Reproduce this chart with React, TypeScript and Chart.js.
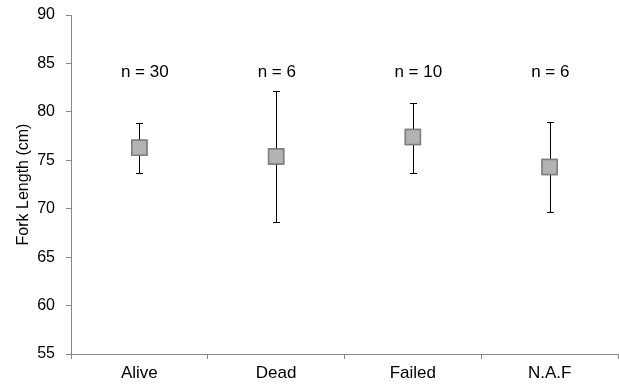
import React, { useEffect, useRef } from "react";
import { Chart, registerables } from "chart.js";

Chart.register(...registerables);

const categories = ["Alive", "Dead", "Failed", "N.A.F"];
const means = [76.3, 75.4, 77.4, 74.3];
const upper = [78.9, 82.2, 80.9, 79.0];
const lower = [73.7, 68.6, 73.65, 69.7];
const nLabels = ["n = 30", "n = 6", "n = 10", "n = 6"];
const nLabelY = 84.1;
const yMin = 55;
const yMax = 90;
const yStep = 5;

const FONT = "'Liberation Sans', Arial, sans-serif";

const errorBarPlugin = {
  id: "errorBars",
  afterDatasetsDraw(chart: any) {
    const ctx = chart.ctx;
    const x = chart.scales.x;
    const y = chart.scales.y;
    ctx.save();
    ctx.strokeStyle = "#000";
    ctx.lineWidth = 1;
    categories.forEach((_, i) => {
      const px = Math.round(x.getPixelForValue(i)) + 0.5;
      const pt = Math.round(y.getPixelForValue(upper[i])) + 0.5;
      const pb = Math.round(y.getPixelForValue(lower[i])) + 0.5;
      ctx.beginPath();
      ctx.moveTo(px, pt);
      ctx.lineTo(px, pb);
      ctx.moveTo(px - 3.5, pt);
      ctx.lineTo(px + 3.5, pt);
      ctx.moveTo(px - 3.5, pb);
      ctx.lineTo(px + 3.5, pb);
      ctx.stroke();
    });
    ctx.restore();
  },
};

const drawPointsPlugin = {
  id: "redrawPoints",
  afterDatasetsDraw(chart: any) {
    const meta = chart.getDatasetMeta(0);
    const ctx = chart.ctx;
    ctx.save();
    meta.data.forEach((el: any) => el.draw(ctx, chart.chartArea));
    ctx.restore();
  },
};

const nLabelPlugin = {
  id: "nLabels",
  afterDatasetsDraw(chart: any) {
    const ctx = chart.ctx;
    const x = chart.scales.x;
    const y = chart.scales.y;
    ctx.save();
    ctx.fillStyle = "#000";
    ctx.font = `17px ${FONT}`;
    ctx.textAlign = "left";
    ctx.textBaseline = "middle";
    nLabels.forEach((t, i) => {
      ctx.fillText(t, x.getPixelForValue(i) - 18.5, y.getPixelForValue(nLabelY));
    });
    ctx.restore();
  },
};

export default function App() {
  const ref = useRef<HTMLCanvasElement>(null);
  useEffect(() => {
    if (!ref.current) return;
    const chart = new Chart(ref.current, {
      type: "line",
      data: {
        labels: categories,
        datasets: [
          {
            data: means,
            showLine: false,
            pointStyle: "rect",
            pointRadius: 10.6,
            pointBackgroundColor: "#B3B3B3",
            pointBorderColor: "#7F7F7F",
            pointBorderWidth: 1.5,
          },
        ],
      },
      options: {
        animation: false,
        responsive: false,
        maintainAspectRatio: false,
        layout: { autoPadding: false, padding: { top: 15, right: 1, left: 0, bottom: 2 } },
        plugins: {
          legend: { display: false },
          tooltip: { enabled: false },
        },
        scales: {
          x: {
            type: "category",
            offset: true,
            afterFit(scale: any) {
              scale.height = 29;
              scale.paddingLeft = 0;
              scale.paddingRight = 0;
              scale.paddingTop = 0;
              scale.paddingBottom = 0;
            },
            grid: {
              offset: true,
              drawOnChartArea: false,
              drawTicks: true,
              tickLength: 5,
              color: "#888",
            },
            border: { color: "#888", width: 1 },
            ticks: {
              color: "#000",
              font: { family: FONT, size: 17 },
              padding: 4,
            },
          },
          y: {
            min: yMin,
            max: yMax,
            afterFit(scale: any) {
              scale.width = 71;
              scale.paddingLeft = 0;
              scale.paddingRight = 0;
              scale.paddingTop = 0;
              scale.paddingBottom = 0;
            },
            grid: {
              drawOnChartArea: false,
              drawTicks: true,
              tickLength: 5,
              color: "#888",
            },
            border: { color: "#888", width: 1 },
            ticks: {
              stepSize: yStep,
              color: "#000",
              font: { family: FONT, size: 16 },
              padding: 11,
            },
            title: {
              display: true,
              text: "Fork Length (cm)",
              color: "#000",
              font: { family: FONT, size: 16 },
              padding: { top: 14, bottom: 3 },
            },
          },
        },
      },
      plugins: [errorBarPlugin, drawPointsPlugin, nLabelPlugin],
    });
    return () => chart.destroy();
  }, []);
  return (
    <div style={{ position: "absolute", left: 0, top: 0, width: 619, height: 385 }}>
      <canvas ref={ref} width={619} height={385} style={{ width: 619, height: 385 }} />
    </div>
  );
}
